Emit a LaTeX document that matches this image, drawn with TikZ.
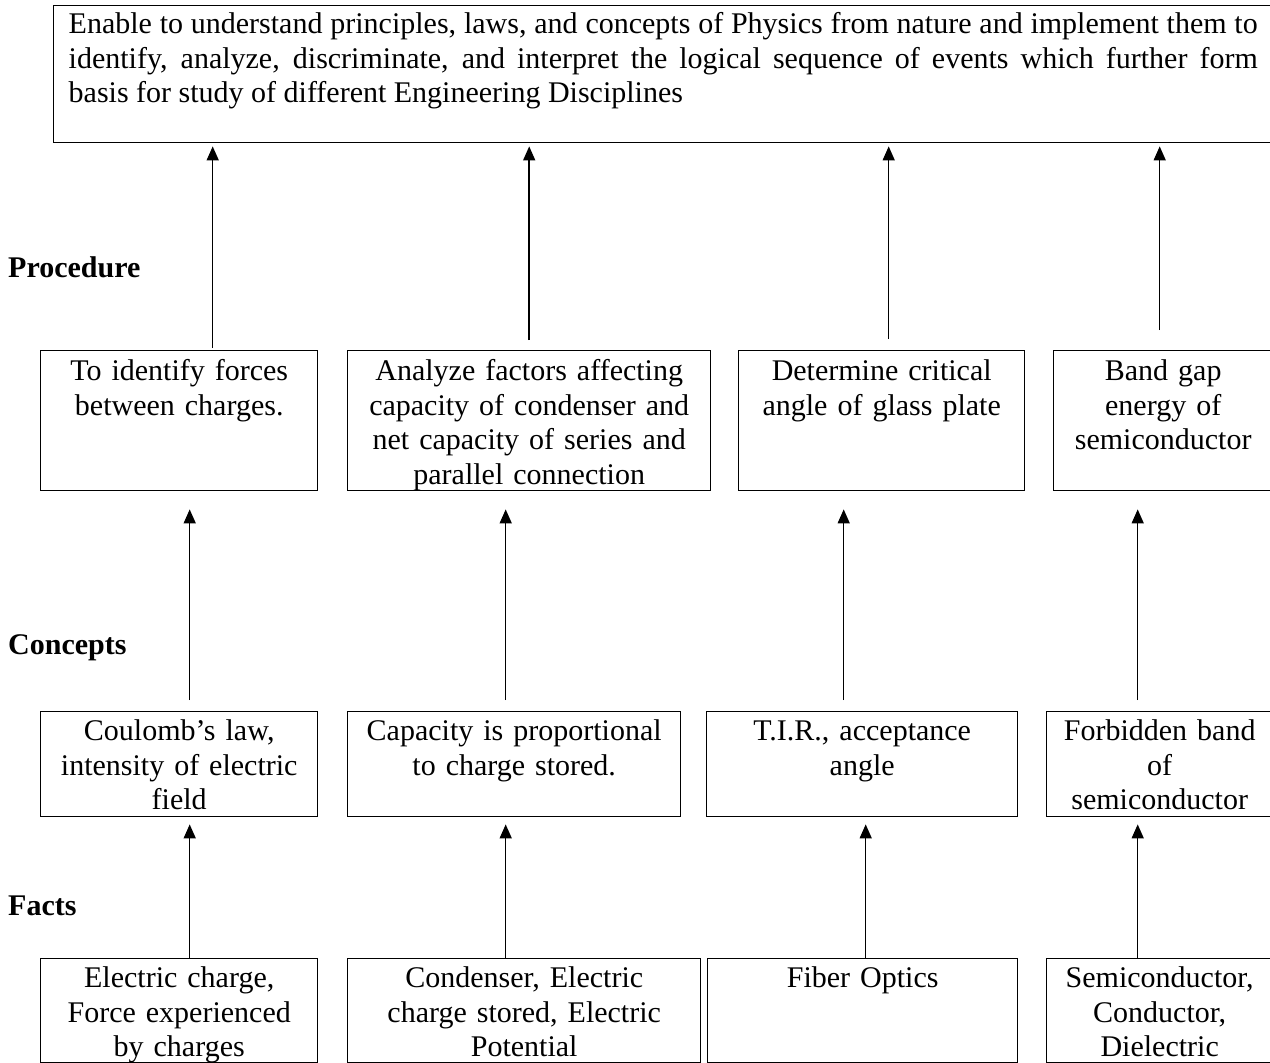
\documentclass[tikz,border=0pt]{standalone}
\usepackage{fontspec}
\setmainfont{Liberation Serif}
\usetikzlibrary{arrows.meta}

\begin{document}
\begin{tikzpicture}[x=1pt, y=-1pt,
  goal/.style={draw, line width=1.4pt, anchor=north west, text width=1189pt,
              inner xsep=15pt, inner ysep=0pt, align=justify,
              font=\fontsize{30}{34.5}\selectfont,
              text height=28pt, text depth=109pt},
  cell/.style={draw, line width=1.4pt, anchor=north west, inner sep=0pt,
              align=center, font=\fontsize{30}{34.5}\selectfont},
  proc/.style={cell, text height=30pt, text depth=110pt},
  conc/.style={cell, text height=29pt, text depth=76pt},
  fact/.style={cell, text height=29pt, text depth=75pt},
  level/.style={anchor=west, inner sep=0pt,
              font=\fontsize{30}{34.5}\selectfont\bfseries},
  arr/.style={-{Triangle[width=12pt,length=14pt]}, line width=1.5pt}
]
  \useasboundingbox (0,0) rectangle (1270,1063);
  \clip (0,0) rectangle (1270,1063);

  \node[goal] (aim) at (53,5) {Enable to understand principles, laws, and concepts of Physics from nature and implement them to\linebreak
    identify, analyze, discriminate, and interpret the logical sequence of events which further form\linebreak
    basis for study of different Engineering Disciplines};

  \node[level] (lproc) at (8,267) {Procedure};
  \node[level] (lconc) at (8,648) {Concepts};
  \node[level] (lfact) at (8,906) {Facts};

  % procedure row
  \node[proc, text width=277pt] (p1) at (40,350)   {To identify forces\\between charges.};
  \node[proc, text width=363pt] (p2) at (347,350)  {Analyze factors affecting\\capacity of condenser and\\net capacity of series and\\parallel connection};
  \node[proc, text width=286pt] (p3) at (738,350)  {Determine critical\\angle of glass plate};
  \node[proc, text width=219pt] (p4) at (1053,350) {Band gap\\energy of\\semiconductor};

  % concepts row
  \node[conc, text width=277pt] (c1) at (40,711)   {Coulomb’s law,\\intensity of electric\\field};
  \node[conc, text width=333pt] (c2) at (347,711)  {Capacity is proportional\\to charge stored.};
  \node[conc, text width=311pt] (c3) at (706,711)  {T.I.R., acceptance\\angle};
  \node[conc, text width=226pt] (c4) at (1046,711) {Forbidden band\\of\\semiconductor};

  % facts row
  \node[fact, text width=277pt] (f1) at (40,958)   {Electric charge,\\Force experienced\\by charges};
  \node[fact, text width=353pt] (f2) at (347,958)  {Condenser, Electric\\charge stored, Electric\\Potential};
  \node[fact, text width=310pt] (f3) at (707,958)  {Fiber Optics};
  \node[fact, text width=226pt] (f4) at (1046,958) {Semiconductor,\\Conductor,\\Dielectric};

  % procedure -> aim
  \draw[arr, shorten <=2pt, shorten >=3pt]  ([xshift=33.5pt]p1.north) -- ([xshift=33.5pt]p1.north |- aim.south);
  \draw[arr, shorten <=10pt, shorten >=3pt] (p2.north) -- (p2.north |- aim.south);
  \draw[arr, shorten <=11pt, shorten >=3pt] ([xshift=7pt]p3.north) -- ([xshift=7pt]p3.north |- aim.south);
  \draw[arr, shorten <=20pt, shorten >=3pt] ([xshift=-3.5pt]p4.north) -- ([xshift=-3.5pt]p4.north |- aim.south);

  % concepts -> procedure
  \draw[arr, shorten <=11pt, shorten >=18pt] ([xshift=10.5pt]c1.north) -- ([xshift=10.5pt]c1.north |- p1.south);
  \draw[arr, shorten <=11pt, shorten >=18pt] ([xshift=-8.5pt]c2.north) -- ([xshift=-8.5pt]c2.north |- p2.south);
  \draw[arr, shorten <=11pt, shorten >=18pt] ([xshift=-18.5pt]c3.north) -- ([xshift=-18.5pt]c3.north |- p3.south);
  \draw[arr, shorten <=11pt, shorten >=18pt] ([xshift=-22pt]c4.north) -- ([xshift=-22pt]c4.north |- p4.south);

  % facts -> concepts
  \draw[arr, shorten >=7pt] ([xshift=10.5pt]f1.north) -- ([xshift=10.5pt]f1.north |- c1.south);
  \draw[arr, shorten >=7pt] ([xshift=-18.5pt]f2.north) -- ([xshift=-18.5pt]f2.north |- c2.south);
  \draw[arr, shorten >=7pt] ([xshift=3pt]f3.north) -- ([xshift=3pt]f3.north |- c3.south);
  \draw[arr, shorten >=7pt] ([xshift=-22pt]f4.north) -- ([xshift=-22pt]f4.north |- c4.south);
\end{tikzpicture}
\end{document}
